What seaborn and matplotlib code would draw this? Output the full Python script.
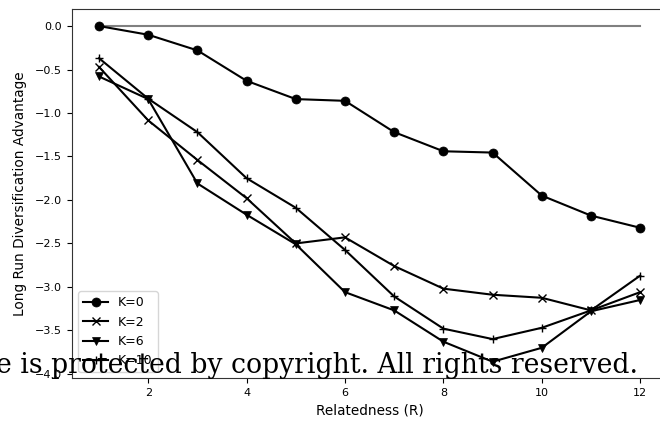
import matplotlib
matplotlib.use("Agg")
import matplotlib.pyplot as plt
import seaborn as sns

# Relatedness values on the x axis
relatedness = [1, 2, 3, 4, 5, 6, 7, 8, 9, 10, 11, 12]

# Long run diversification advantage per interaction level K
adv_k0 = [0.0, -0.10, -0.28, -0.63, -0.84, -0.86, -1.22, -1.44, -1.455, -1.95, -2.18, -2.32]
adv_k2 = [-0.47, -1.085, -1.54, -1.98, -2.50, -2.43, -2.76, -3.02, -3.09, -3.125, -3.27, -3.06]
adv_k6 = [-0.58, -0.84, -1.81, -2.17, -2.51, -3.06, -3.27, -3.63, -3.86, -3.70, -3.28, -3.15]
adv_k10 = [-0.37, -0.835, -1.22, -1.75, -2.09, -2.575, -3.11, -3.48, -3.60, -3.47, -3.27, -2.87]

series_labels = ["K=0", "K=2", "K=6", "K=10"]
series_markers = ["o", "x", "v", "+"]

plt.rcParams["font.family"] = ["DejaVu Sans"]

fig = plt.figure(figsize=(6.60, 4.21), dpi=100)
ax = fig.add_axes([0.109, 0.101, 0.902, 0.877])

# reference line at zero advantage
ax.plot([relatedness[0], relatedness[-1]], [0, 0], color="#808080", linewidth=1.5, zorder=1)

for values, lab, mk in zip([adv_k0, adv_k2, adv_k6, adv_k10], series_labels, series_markers):
    sns.lineplot(x=relatedness, y=values, ax=ax, color="black", marker=mk,
                 markersize=6 if mk != "o" else 6.5, markeredgecolor="black",
                 markeredgewidth=1.0 if mk in ("x", "+") else 0.5,
                 linewidth=1.5, label=lab, zorder=3)

ax.set_xticks([2, 4, 6, 8, 10, 12])
ax.set_yticks([0.0, -0.5, -1.0, -1.5, -2.0, -2.5, -3.0, -3.5, -4.0])
ax.tick_params(labelsize=8)
for side in ("left", "bottom", "top"):
    ax.spines[side].set_color("#333333")
ax.set_xlabel("Relatedness (R)", fontsize=9.8)
ax.set_ylabel("Long Run Diversification Advantage", fontsize=9.8, labelpad=6)
ax.margins(x=0.05, y=0.05)

ax.legend(loc="lower left", fontsize=9, handlelength=2.0)

fig.text(638 / 660, 1 - 373 / 421, "e is protected by copyright. All rights reserved.",
         family=["DejaVu Serif"], fontsize=19.2, ha="right", va="baseline",
         color="black", zorder=10)

fig.savefig("out.png", dpi=100)
